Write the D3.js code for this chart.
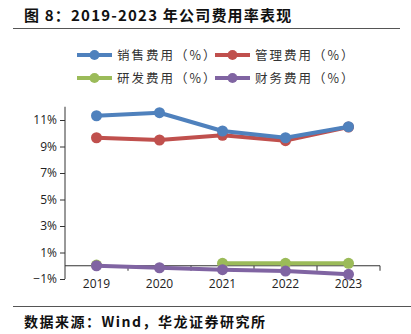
<!DOCTYPE html>
<html><head><meta charset="utf-8">
<script src="https://cdn.jsdelivr.net/npm/d3@7"></script>
<style>body{margin:0;background:#fff}svg{display:block}</style>
</head><body>
<svg id="c" width="411" height="334"></svg>
<script>
const years = ["2019","2020","2021","2022","2023"];
const salesRate = [11.32, 11.55, 10.17, 9.66, 10.49];
const adminRate = [9.66, 9.49, 9.85, 9.44, 10.47];
const rdRate = [0.05, null, 0.18, 0.18, 0.18];
const finRate = [0.0, -0.15, -0.3, -0.4, -0.65];
const yTicks = [-1, 1, 3, 5, 7, 9, 11];
const seriesNames = ["销售费用（%）","管理费用（%）","研发费用（%）","财务费用（%）"];
const seriesColors = ["#4F81BD","#C0504D","#9BBB59","#8064A2"];
const seriesData = [salesRate, adminRate, rdRate, finRate];

const svg = d3.select("#c");
const cjk = "'Noto Sans CJK SC', sans-serif";

// title
svg.append("text").attr("x",24).attr("y",21).attr("font-family",cjk).attr("font-weight","bold")
  .attr("font-size",15).attr("letter-spacing",1.2).attr("fill","#111").text("图 8：2019-2023 年公司费用率表现");
svg.append("line").attr("x1",13).attr("x2",400).attr("y1",28.5).attr("y2",28.5).attr("stroke","#555").attr("stroke-width",1);
svg.append("line").attr("x1",13).attr("x2",411).attr("y1",306.5).attr("y2",306.5).attr("stroke","#555").attr("stroke-width",1);
svg.append("text").attr("x",24).attr("y",327).attr("font-family",cjk).attr("font-weight","bold")
  .attr("font-size",14).attr("letter-spacing",1.5).attr("fill","#111").text("数据来源：Wind，华龙证券研究所");

const x = d3.scaleBand().domain(years).range([65,380]);
const y = d3.scaleLinear().domain([-1,12]).range([279,106.75]);

// y axis
const ya = svg.append("g").attr("transform","translate(65,0)")
  .call(d3.axisLeft(y).tickValues(yTicks).tickSize(5).tickPadding(3)
    .tickFormat(d => (d<0?"−"+Math.abs(d):d)+"%"));
ya.select(".domain").attr("d","M0,"+y(12)+"V"+y(-1)).attr("stroke","#333");
ya.selectAll(".tick line").attr("stroke","#333");
ya.selectAll("text").attr("font-family","'Open Sans', sans-serif").attr("font-size",12).attr("fill","#222");

// x axis at zero
const xa = svg.append("g").attr("transform","translate(0,"+y(0)+")")
  .call(d3.axisBottom(x).tickSize(0).tickPadding(14));
xa.select(".domain").attr("d","M65,0H380").attr("stroke","#333");
xa.selectAll("text").attr("font-family","'Open Sans', sans-serif").attr("font-size",12).attr("fill","#222");
const bounds = years.map(d => x(d)+x.bandwidth());
svg.append("g").selectAll("line").data(bounds).join("line")
  .attr("x1",d=>d).attr("x2",d=>d).attr("y1",y(0)).attr("y2",y(0)+5).attr("stroke","#333");

// series
const cx = d => x(d)+x.bandwidth()/2;
const line = d3.line().defined(d=>d.v!==null).x(d=>cx(d.k)).y(d=>y(d.v));
const order = [2,3,1,0];
order.forEach(i=>{
  const pts = years.map((k,j)=>({k, v: seriesData[i][j]}));
  svg.append("path").datum(pts).attr("d",line).attr("fill","none")
    .attr("stroke",seriesColors[i]).attr("stroke-width",4).attr("stroke-linejoin","round");
  svg.append("g").selectAll("circle").data(pts.filter(p=>p.v!==null)).join("circle")
    .attr("cx",p=>cx(p.k)).attr("cy",p=>y(p.v)).attr("r",5.5).attr("fill",seriesColors[i]);
});

// legend
const lg = svg.append("g");
seriesNames.forEach((n,i)=>{
  const lx = i%2===0 ? 77 : 215;
  const ly = i<2 ? 55 : 78;
  lg.append("line").attr("x1",lx).attr("x2",lx+35).attr("y1",ly).attr("y2",ly)
    .attr("stroke",seriesColors[i]).attr("stroke-width",4);
  lg.append("circle").attr("cx",lx+17.5).attr("cy",ly).attr("r",5).attr("fill",seriesColors[i]);
  lg.append("text").attr("x",lx+40).attr("y",ly+4.5).attr("font-family",cjk)
    .attr("font-size",12.5).attr("fill","#333").attr("letter-spacing",2).text(n);
});
</script>
</body></html>
